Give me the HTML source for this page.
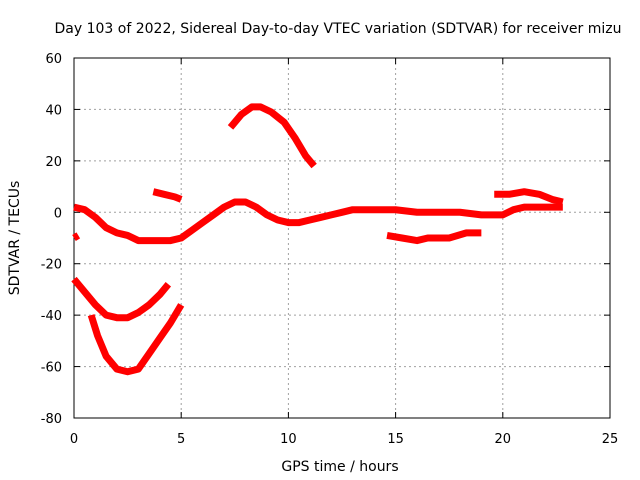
<!DOCTYPE html>
<html><head><meta charset="utf-8"><style>body{margin:0;background:#fff}svg{display:block;font-family:"DejaVu Sans","Liberation Sans",sans-serif}</style></head>
<body>
<svg id="c" width="640" height="480"></svg>
<script>
const xTicks=[0,5,10,15,20,25];
const yTicks=[60,40,20,0,-20,-40,-60,-80];
const seriesMainH=[0,0.5,1,1.5,2,2.5,3,3.5,4,4.5,5,5.5,6,6.5,7,7.5,8,8.5,9,9.5,10,10.5,11,11.5,12,12.5,13,14,15,16,17,18,19,20,20.5,21,22,22.8];
const seriesMainV=[2,1,-2,-6,-8,-9,-11,-11,-11,-11,-10,-7,-4,-1,2,4,4,2,-1,-3,-4,-4,-3,-2,-1,0,1,1,1,0,0,0,-1,-1,1,2,2,2];
const seriesBH=[3.7,4.2,4.7,5];const seriesBV=[8,7,6,5];
const seriesCH=[7.3,7.8,8.3,8.7,9.2,9.8,10.3,10.8,11.2];const seriesCV=[33,38,41,41,39,35,29,22,18];
const seriesDH=[0,0.5,1,1.5,2,2.5,3,3.5,4,4.4];const seriesDV=[-26,-31,-36,-40,-41,-41,-39,-36,-32,-28];
const seriesEH=[0.8,1.1,1.5,2,2.5,3,3.5,4,4.5,5];const seriesEV=[-40,-48,-56,-61,-62,-61,-55,-49,-43,-36];
const seriesFH=[14.6,15.3,16,16.5,17.5,18.3,19];const seriesFV=[-9,-10,-11,-10,-10,-8,-8];
const seriesGH=[19.6,20.3,21,21.7,22.3,22.8];const seriesGV=[7,7,8,7,5,4];
const seriesSH=[0,0.2];const seriesSV=[-10,-9];
const X0=74,X1=610,Y0=58,Y1=418;
const xs=h=>X0+(h/25)*(X1-X0);
const ys=v=>Y0+((60-v)/140)*(Y1-Y0);
const svg=document.getElementById('c');const NS='http://www.w3.org/2000/svg';
function mk(t,a,txt){const e=document.createElementNS(NS,t);for(const k in a)e.setAttribute(k,a[k]);if(txt!==undefined)e.textContent=txt;svg.appendChild(e);return e;}
xTicks.forEach(t=>{const x=xs(t);
 if(t>0&&t<25){const g=mk('line',{x1:x,x2:x,y1:Y0,y2:Y1,stroke:'#a0a0a0','stroke-dasharray':'2,3'});}
 const tl=mk('text',{x:x,y:443,'text-anchor':'middle','font-size':13},t);
 mk('line',{x1:x,x2:x,y1:Y1,y2:Y1-6,stroke:'#000'});mk('line',{x1:x,x2:x,y1:Y0,y2:Y0+6,stroke:'#000'});});
yTicks.forEach(t=>{const y=ys(t);
 if(t<60&&t>-80){const g=mk('line',{x1:X0,x2:X1,y1:y,y2:y,stroke:'#a0a0a0','stroke-dasharray':'2,3'});}
 const tl=mk('text',{x:62,y:y+5,'text-anchor':'end','font-size':13},t);
 mk('line',{x1:X0,x2:X0+6,y1:y,y2:y,stroke:'#000'});mk('line',{x1:X1,x2:X1-6,y1:y,y2:y,stroke:'#000'});});
const fr=mk('rect',{x:X0,y:Y0,width:X1-X0,height:Y1-Y0,fill:'none',stroke:'#000'});

[[seriesMainH,seriesMainV,'series-main'],[seriesBH,seriesBV,'series-b'],[seriesCH,seriesCV,'series-c'],[seriesDH,seriesDV,'series-d'],[seriesEH,seriesEV,'series-e'],[seriesFH,seriesFV,'series-f'],[seriesGH,seriesGV,'series-g'],[seriesSH,seriesSV,'series-short']].forEach(([H,V,n])=>{
 const p=mk('polyline',{points:H.map((h,i)=>xs(h)+','+ys(V[i])).join(' '),fill:'none',stroke:'#f00','stroke-width':7,'stroke-linejoin':'round'});
 
 });
const ti=mk('text',{x:338,y:33,'text-anchor':'middle','font-size':14},'Day 103 of 2022, Sidereal Day-to-day VTEC variation (SDTVAR) for receiver mizu');

const xt=mk('text',{x:340,y:471,'text-anchor':'middle','font-size':14},'GPS time / hours');

const yt=mk('text',{x:0,y:0,'text-anchor':'middle','font-size':14,transform:'translate(19,238) rotate(-90)'},'SDTVAR / TECUs');

</script>
</body></html>
